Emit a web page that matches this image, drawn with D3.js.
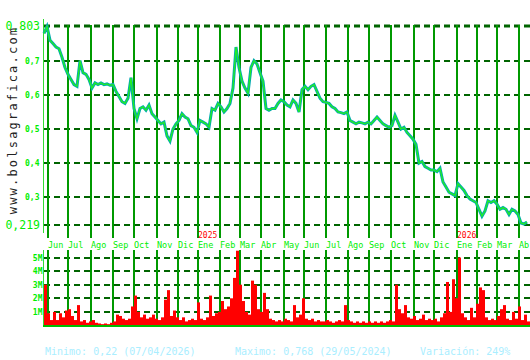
<!DOCTYPE html>
<html>
<head>
<meta charset="utf-8">
<script src="https://cdn.jsdelivr.net/npm/d3@7"></script>
<style>
body { margin: 0; background: #fff; }
text { font-family: "DejaVu Sans Mono", monospace; }
</style>
</head>
<body>
<svg width="530" height="360"></svg>
<script>
// month labels and the trading day where each month starts
var months = ["Jun","Jul","Ago","Sep","Oct","Nov","Dic","Ene","Feb","Mar","Abr","May",
              "Jun","Jul","Ago","Sep","Oct","Nov","Dic","Ene","Feb","Mar","Abr"];
var monthDays = [4,24,47,69,90,113,134,154,176,196,217,240,260,282,304,325,347,370,390,413,433,453,475];
var years = ["2025", "2026"];
var yearDays = [154, 413];

var priceTicks = [0.3, 0.4, 0.5, 0.6, 0.7];
var priceMin = 0.219, priceMax = 0.803;
var volTicks = [1, 2, 3, 4, 5];

// one value every 3 trading days
var stepDays = 3;
var closes = [
  0.78,0.80,0.76,0.75,0.74,0.735,0.71,0.68,0.66,0.645,
  0.63,0.625,0.70,0.665,0.66,0.645,0.62,0.635,0.63,0.635,
  0.63,0.632,0.628,0.63,0.61,0.595,0.58,0.575,0.59,0.65,
  0.56,0.53,0.56,0.565,0.555,0.57,0.545,0.535,0.525,0.515,
  0.52,0.48,0.465,0.50,0.515,0.525,0.545,0.535,0.53,0.51,
  0.505,0.49,0.525,0.52,0.515,0.505,0.56,0.555,0.575,0.565,
  0.55,0.56,0.575,0.62,0.74,0.68,0.64,0.62,0.605,0.68,
  0.70,0.69,0.665,0.64,0.56,0.555,0.56,0.56,0.575,0.585,
  0.58,0.57,0.565,0.585,0.575,0.55,0.615,0.625,0.615,0.625,
  0.63,0.61,0.59,0.58,0.578,0.575,0.565,0.56,0.55,0.548,
  0.545,0.55,0.525,0.52,0.515,0.52,0.518,0.515,0.52,0.515,
  0.525,0.535,0.525,0.515,0.51,0.505,0.51,0.54,0.52,0.50,
  0.505,0.49,0.48,0.47,0.455,0.40,0.405,0.39,0.385,0.38,
  0.38,0.375,0.385,0.345,0.33,0.315,0.31,0.305,0.34,0.33,
  0.32,0.305,0.295,0.29,0.285,0.265,0.245,0.26,0.29,0.285,
  0.29,0.28,0.265,0.27,0.265,0.25,0.265,0.26,0.25,0.225,
  0.222,0.228
];
// volume in millions
var volumes = [
  3.0,0.9,0.4,1.0,0.4,0.9,0.6,1.1,1.2,0.7,
  0.4,1.5,0.3,0.4,0.2,0.3,0.4,0.2,0.15,0.1,
  0.15,0.1,0.2,0.3,0.8,0.7,0.5,0.4,0.5,1.4,
  2.2,1.0,0.6,0.8,0.5,0.6,0.8,0.5,0.4,0.6,
  1.9,2.6,0.7,1.1,0.6,0.4,0.6,0.3,0.4,0.5,
  0.4,1.7,0.5,0.4,0.6,2.2,0.7,0.9,1.0,1.8,
  1.2,1.4,2.0,3.5,5.5,3.0,1.8,1.0,0.8,3.3,
  3.0,1.2,1.0,2.4,1.2,0.5,0.4,0.3,0.4,0.3,
  0.5,0.4,0.3,1.5,0.6,0.8,2.0,0.5,0.4,0.5,
  0.3,0.4,0.3,0.3,0.4,0.3,0.2,0.3,0.4,0.3,
  1.5,0.4,0.3,0.2,0.3,0.2,0.3,0.2,0.3,0.2,
  0.3,0.2,0.3,0.2,0.3,0.4,0.3,3.0,1.2,0.9,
  1.5,0.6,0.5,0.7,0.4,0.5,0.8,0.4,0.5,0.4,
  0.5,0.3,0.6,0.9,3.2,1.0,3.4,2.0,5.0,0.9,
  0.6,0.4,1.3,0.6,1.6,2.8,2.6,0.6,0.4,0.5,
  0.4,0.7,1.2,1.5,0.5,0.4,1.0,0.5,1.4,0.4,
  0.8,0.3
];

var svg = d3.select("svg");

var x = d3.scaleLinear().domain([0, 486]).range([44, 530]);
var y = d3.scaleLinear().domain([priceMin, priceMax]).range([225, 25.5]);
var yv = d3.scaleLinear().domain([0, 5.5]).range([325.5, 250.7]);

// price grid
svg.selectAll(".hgrid")
    .data([priceMin].concat(priceTicks))
  .enter().append("line")
    .attr("x1", 44).attr("x2", 530)
    .attr("y1", d => Math.round(y(d))).attr("y2", d => Math.round(y(d)))
    .attr("stroke", "#006400").attr("stroke-width", 2)
    .attr("stroke-dasharray", "6,4");

svg.append("line")
    .attr("x1", 44).attr("x2", 530)
    .attr("y1", Math.round(y(priceMax))).attr("y2", Math.round(y(priceMax)))
    .attr("stroke", "#006400").attr("stroke-width", 3)
    .attr("stroke-dasharray", "6,4");

svg.selectAll(".vgrid")
    .data(monthDays)
  .enter().append("line")
    .attr("x1", d => Math.round(x(d))).attr("x2", d => Math.round(x(d)))
    .attr("y1", 25).attr("y2", 238)
    .attr("stroke", "#009900").attr("stroke-width", 2);

svg.append("line")
    .attr("x1", 43.5).attr("x2", 43.5).attr("y1", 19).attr("y2", 233)
    .attr("stroke", "#33dd33").attr("stroke-width", 1);

// volume grid
svg.selectAll(".vhgrid")
    .data(volTicks)
  .enter().append("line")
    .attr("x1", 44).attr("x2", 530)
    .attr("y1", d => Math.round(yv(d))).attr("y2", d => Math.round(yv(d)))
    .attr("stroke", "#006400").attr("stroke-width", 2)
    .attr("stroke-dasharray", "6,4");

svg.selectAll(".vvgrid")
    .data(monthDays)
  .enter().append("line")
    .attr("x1", d => Math.round(x(d))).attr("x2", d => Math.round(x(d)))
    .attr("y1", 250).attr("y2", 326)
    .attr("stroke", "#009900").attr("stroke-width", 2);

// volume bars
svg.selectAll(".vol")
    .data(volumes)
  .enter().append("rect")
    .attr("x", (d, i) => Math.round(x(i * stepDays)))
    .attr("width", Math.round(x(stepDays) - x(0)))
    .attr("y", d => yv(d))
    .attr("height", d => yv(0) - yv(d))
    .attr("fill", "#ff0000");

svg.append("line")
    .attr("x1", 43.5).attr("x2", 43.5).attr("y1", 250).attr("y2", 327)
    .attr("stroke", "#33dd33").attr("stroke-width", 1);
svg.append("line")
    .attr("x1", 43).attr("x2", 530).attr("y1", 326).attr("y2", 326)
    .attr("stroke", "#00bb00").attr("stroke-width", 2);

// price lines
var line = d3.line()
    .x((d, i) => x(i * stepDays))
    .y(d => y(d));

svg.append("path")
    .datum(closes)
    .attr("d", line)
    .attr("fill", "none")
    .attr("stroke", "#00a8b0")
    .attr("stroke-width", 3);

svg.append("path")
    .datum(closes)
    .attr("d", line)
    .attr("fill", "none")
    .attr("stroke", "#22ee22")
    .attr("stroke-width", 1.3);

// labels
svg.selectAll(".ylab")
    .data(priceTicks)
  .enter().append("text")
    .attr("x", 39.5).attr("y", d => y(d) + 3)
    .attr("text-anchor", "end")
    .attr("font-size", 8).attr("font-weight", "bold")
    .attr("fill", "#00ee00")
    .text(d => d3.format(".1f")(d).replace(".", ","));

svg.selectAll(".yend")
    .data([priceMin, priceMax])
  .enter().append("text")
    .attr("x", 40).attr("y", d => y(d) + 4)
    .attr("text-anchor", "end")
    .attr("font-size", 11.5)
    .attr("fill", "#00ee00")
    .text(d => d3.format(".3f")(d).replace(".", ","));

svg.selectAll(".vlab")
    .data(volTicks)
  .enter().append("text")
    .attr("x", 42.5).attr("y", d => yv(d) + 3)
    .attr("text-anchor", "end")
    .attr("font-size", 8).attr("font-weight", "bold")
    .attr("fill", "#00ee00")
    .text(d => d + "M");

svg.selectAll(".mlab")
    .data(months)
  .enter().append("text")
    .attr("x", (d, i) => Math.round(x(monthDays[i])))
    .attr("y", 248)
    .attr("font-size", 8.5)
    .attr("fill", "#00ee00")
    .text(d => d);

svg.selectAll(".ylabel")
    .data(years)
  .enter().append("text")
    .attr("x", (d, i) => Math.round(x(yearDays[i])))
    .attr("y", 238)
    .attr("font-size", 8)
    .attr("fill", "#ff0000")
    .text(d => d);

svg.append("text")
    .attr("transform", "translate(17,120) rotate(-90)")
    .attr("text-anchor", "middle")
    .attr("font-size", 12)
    .attr("letter-spacing", 2.2)
    .attr("fill", "#222")
    .text("www.bolsagrafica.com");

var footer = ["Minimo: 0,22 (07/04/2026)", "Maximo: 0,768 (29/05/2024)", "Variación: 249%"];
var footerX = [45, 235, 420];
svg.selectAll(".foot")
    .data(footer)
  .enter().append("text")
    .attr("x", (d, i) => footerX[i])
    .attr("y", 355)
    .attr("font-size", 10)
    .attr("fill", "#aaeeff")
    .text(d => d);
</script>
</body>
</html>
